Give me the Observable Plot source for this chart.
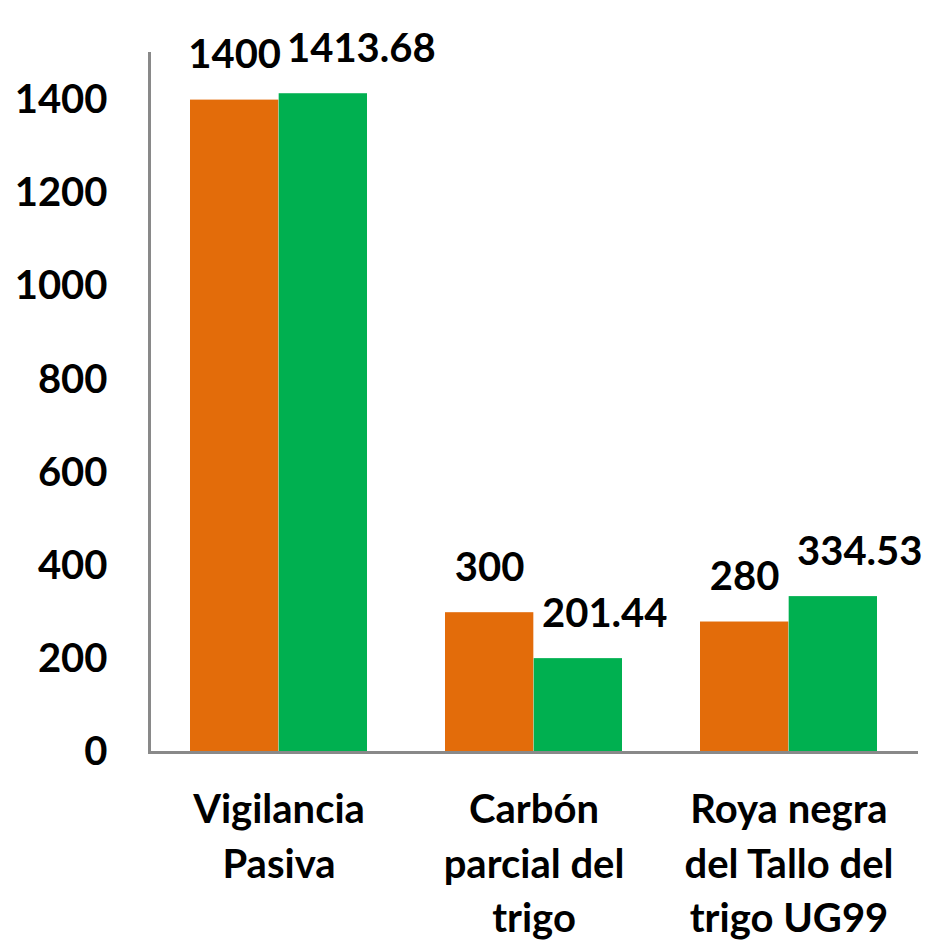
<!DOCTYPE html>
<html><head><meta charset="utf-8">
<script src="https://cdn.jsdelivr.net/npm/d3@7"></script>
<script src="https://cdn.jsdelivr.net/npm/@observablehq/plot@0.6"></script>
<style>body{margin:0;background:#fff}#chart svg{display:block}</style>
</head><body><div id="chart"></div>
<script>
const categories = ["Vigilancia\nPasiva", "Carbón\nparcial del\ntrigo", "Roya negra\ndel Tallo del\ntrigo UG99"];
const seriesOrange = [1400, 300, 280];
const seriesGreen = [1413.68, 201.44, 334.53];
const yTicks = [0, 200, 400, 600, 800, 1000, 1200, 1400];

const rowsOrange = categories.map((c, i) => ({category: c, value: seriesOrange[i]}));
const rowsGreen = categories.map((c, i) => ({category: c, value: seriesGreen[i]}));

const W = 927, H = 944, ML = 149, MR = 9, MT = 53, MB = 192;
const padIn = 0.307, padOut = 0.156;
const step = (W - ML - MR) / (categories.length - padIn + 2 * padOut);
const half = step * (1 - padIn) / 2;
const font = "Lato, 'Open Sans', sans-serif";
const fs = 40;

const chart = Plot.plot({
  width: W, height: H,
  marginLeft: ML, marginRight: MR, marginTop: MT, marginBottom: MB,
  style: {fontFamily: font, fontWeight: "bold", fontSize: fs + "px", color: "#000", background: "#fff"},
  x: {domain: categories, paddingInner: padIn, paddingOuter: padOut, label: null},
  y: {domain: [0, 1500], label: null},
  marks: [
    Plot.barY(rowsOrange, {x: "category", y: "value", fill: "#E36C0A", insetRight: half, insetLeft: 0}),
    Plot.barY(rowsGreen, {x: "category", y: "value", fill: "#00B050", insetLeft: half, insetRight: 0}),
    Plot.frame({anchor: "left", stroke: "#898989", strokeWidth: 3}),
    Plot.ruleY([0], {stroke: "#898989", strokeWidth: 3}),
    Plot.axisY({ticks: yTicks, tickFormat: d => String(d), tickSize: 0, tickPadding: 42, label: null, fontSize: fs, fontWeight: "bold", fill: "#000"}),
    Plot.axisX({tickSize: 0, tickPadding: 32, label: null, fontSize: fs, fontWeight: "bold", fill: "#000", lineHeight: 1.36}),
    Plot.text(rowsOrange, {x: "category", y: "value", text: d => String(d.value), dx: -half / 2, dy: -32, lineAnchor: "bottom", fontSize: fs, fontWeight: "bold", fill: "#000"}),
    Plot.text(rowsGreen, {x: "category", y: "value", text: d => String(d.value), textAnchor: "start", dx: 8, dy: -32, lineAnchor: "bottom", fontSize: fs, fontWeight: "bold", fill: "#000"})
  ]
});
document.getElementById("chart").appendChild(chart);
</script>
</body></html>
